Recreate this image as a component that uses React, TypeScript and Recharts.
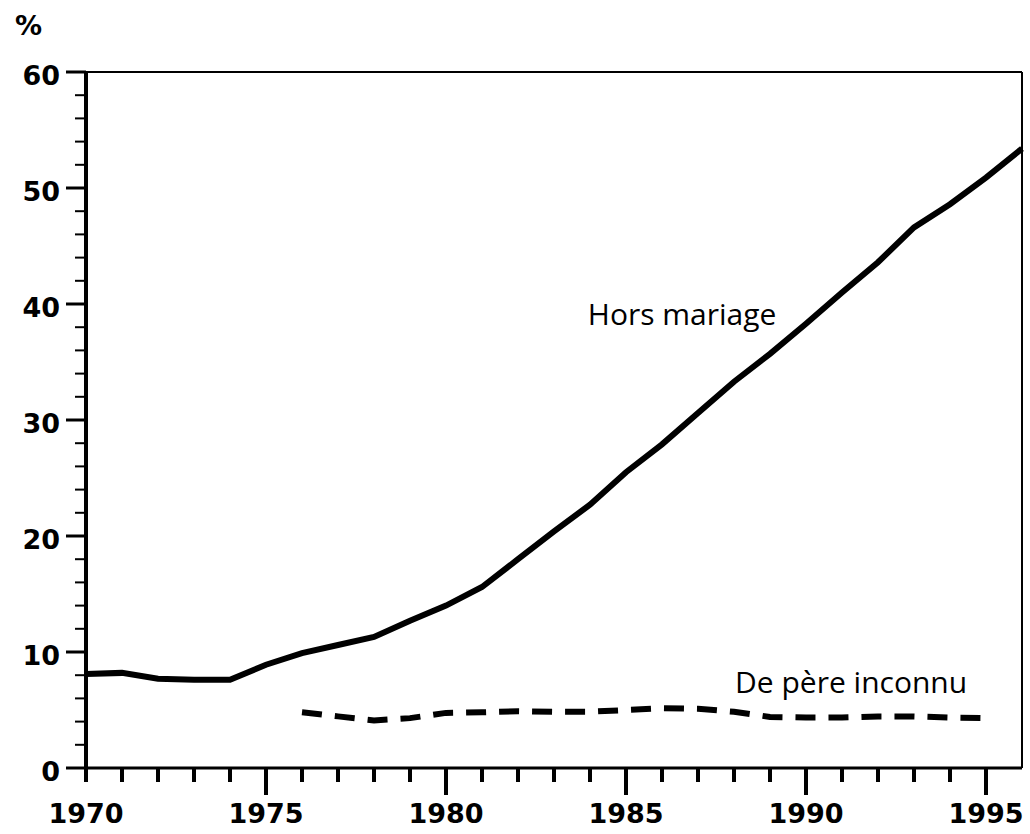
import React from 'react';
import { LineChart, Line, XAxis, YAxis, ReferenceLine, ReferenceDot } from 'recharts';

// Years on the horizontal axis (the frame runs to 1996)
const years = [
  1970, 1971, 1972, 1973, 1974, 1975, 1976, 1977, 1978, 1979, 1980, 1981, 1982, 1983,
  1984, 1985, 1986, 1987, 1988, 1989, 1990, 1991, 1992, 1993, 1994, 1995, 1996,
];

// Naissances hors mariage (%)
const horsMariage = [
  8.1, 8.2, 7.7, 7.6, 7.6, 8.9, 9.9, 10.6, 11.3, 12.7, 14.0, 15.6, 18.0, 20.4,
  22.7, 25.5, 27.9, 30.6, 33.3, 35.7, 38.3, 41.0, 43.6, 46.6, 48.6, 50.9, 53.4,
];

// De père inconnu (%), only 1976-1995
const pereInconnu = [
  null, null, null, null, null, null, 4.8, 4.45, 4.1, 4.3, 4.75, 4.8, 4.9, 4.85,
  4.85, 5.0, 5.15, 5.1, 4.85, 4.4, 4.35, 4.35, 4.45, 4.45, 4.35, 4.3, null,
];

const xTicks = [
  1970, 1971, 1972, 1973, 1974, 1975, 1976, 1977, 1978, 1979, 1980, 1981, 1982,
  1983, 1984, 1985, 1986, 1987, 1988, 1989, 1990, 1991, 1992, 1993, 1994, 1995,
];
const yTicks = [0, 2, 4, 6, 8, 10, 12, 14, 16, 18, 20, 22, 24, 26, 28, 30, 32, 34, 36, 38, 40, 42, 44, 46, 48, 50, 52, 54, 56, 58, 60];

const data = years.map((year, i) => ({
  year,
  hors: horsMariage[i],
  pere: pereInconnu[i],
}));

const labelFont = { fontFamily: '"DejaVu Sans", sans-serif', fontWeight: 700, fontSize: 27 };
const noteFont = { fontFamily: '"Open Sans", sans-serif', fontSize: 30 };

const XTick = (props: any) => {
  const { x, y, payload } = props;
  const v = payload.value;
  const major = v % 5 === 0;
  const len = major && v !== 1970 ? 27 : 14;
  return (
    <g>
      <line x1={x} y1={y} x2={x} y2={y + len} stroke="#000" strokeWidth={4} />
      {major && (
        <text x={x} y={y + 55} textAnchor="middle" fill="#000" {...labelFont}>
          {v}
        </text>
      )}
    </g>
  );
};

const YTick = (props: any) => {
  const { x, y, payload } = props;
  const v = payload.value;
  const major = v % 10 === 0;
  const len = major ? 20 : 11;
  return (
    <g>
      <line x1={x} y1={y} x2={x - len} y2={y} stroke="#000" strokeWidth={major ? 3 : 2} />
      {major && (
        <text x={x - len - 6} y={y + 13} textAnchor="end" fill="#000" {...labelFont}>
          {v}
        </text>
      )}
    </g>
  );
};

const Note = (text: string) => (props: any) => (
  <text x={props.cx} y={props.cy} textAnchor="start" fill="#000" {...noteFont}>
    {text}
  </text>
);

export default function App() {
  return (
    <div style={{ position: 'absolute', left: 0, top: 0, width: 1030, height: 834, background: '#fff' }}>
      <LineChart
        width={1030}
        height={834}
        data={data}
        margin={{ top: 72, right: 8, left: 0, bottom: 0 }}
      >
        <XAxis
          dataKey="year"
          type="number"
          domain={[1970, 1996]}
          ticks={xTicks}
          interval={0}
          height={66}
          tickSize={0}
          tickMargin={0}
          tickLine={false}
          axisLine={{ stroke: '#000', strokeWidth: 3 }}
          tick={<XTick />}
        />
        <YAxis
          type="number"
          domain={[0, 60]}
          ticks={yTicks}
          interval={0}
          width={86}
          tickSize={0}
          tickMargin={0}
          tickLine={false}
          axisLine={{ stroke: '#000', strokeWidth: 4 }}
          tick={<YTick />}
          label={{
            content: (p: any) => (
              <text x={p.viewBox.x + 15} y={p.viewBox.y - 37} fill="#000" {...labelFont} fontSize={27}>
                %
              </text>
            ),
          }}
        />
        <ReferenceLine y={60} stroke="#000" strokeWidth={2} />
        <ReferenceLine x={1996} stroke="#000" strokeWidth={2} />
        <Line
          type="linear"
          dataKey="hors"
          stroke="#000"
          strokeWidth={6}
          dot={false}
          activeDot={false}
          isAnimationActive={false}
        />
        <Line
          type="linear"
          dataKey="pere"
          stroke="#000"
          strokeWidth={6}
          strokeDasharray="20 13"
          dot={false}
          activeDot={false}
          isAnimationActive={false}
        />
        <ReferenceDot x={1983.94} y={38.2} r={0} shape={Note('Hors mariage')} />
        <ReferenceDot x={1988.03} y={6.47} r={0} shape={Note('De père inconnu')} />
      </LineChart>
    </div>
  );
}
